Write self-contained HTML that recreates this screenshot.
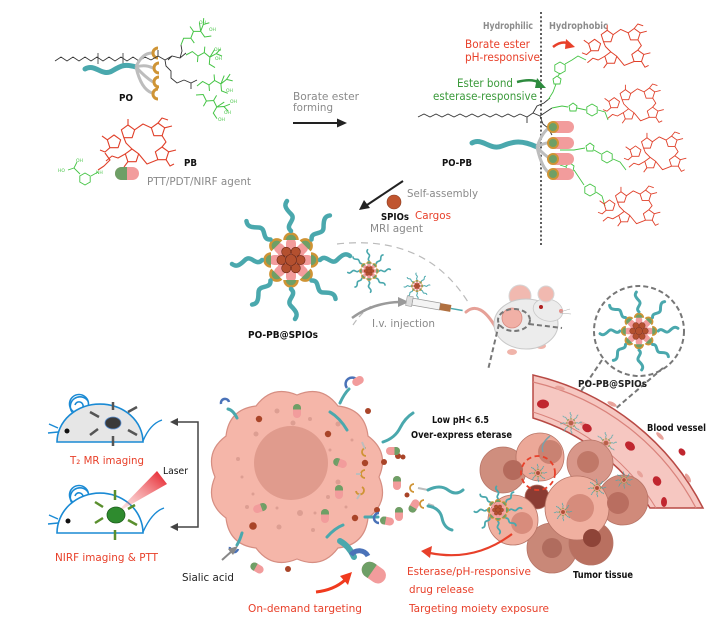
<!DOCTYPE html>
<html><head><meta charset="utf-8"><style>
html,body{margin:0;padding:0;background:#fff;}
svg{display:block;}
text{font-family:"DejaVu Sans","Liberation Sans",sans-serif;}
</style></head><body>
<svg width="720" height="622" viewBox="0 0 720 622" xmlns="http://www.w3.org/2000/svg">
<defs>
<linearGradient id="laser" x1="0" y1="1" x2="1" y2="0">
<stop offset="0" stop-color="#f7a0a0" stop-opacity="0.2"/>
<stop offset="1" stop-color="#e4141e"/>
</linearGradient>
<g id="por" fill="none" stroke="#e0402a" stroke-width="1.1" stroke-linejoin="round">
<polygon points="28,7 34.66,11.84 32.11,19.66 23.89,19.66 21.34,11.84"/>
<polygon points="58,5 64.66,9.84 62.11,17.66 53.89,17.66 51.34,9.84"/>
<polygon points="62,29 68.66,33.84 66.11,41.66 57.89,41.66 55.34,33.84"/>
<polygon points="32,31 38.66,35.84 36.11,43.66 27.89,43.66 25.34,35.84"/>
<polygon points="14,17 20.66,21.84 18.11,29.66 9.89,29.66 7.34,21.84"/>
<polyline points="34.66,11.84 43,6 51.34,9.84"/>
<polyline points="62.11,17.66 66,24 62,29"/>
<polyline points="57.89,41.66 47,46 38.66,35.84"/>
<polyline points="32,31 26,25 23.89,19.66"/>
<path d="M28,7V1 M58,5L62,0L68,2 M64.66,9.84L72,8 M68.66,33.84L76,32 M66.11,41.66L70,48L74,46 M27.89,43.66L24,49 M7.34,21.84L2,18 M9.89,29.66L5,34L0,32 M25.34,35.84L18,40L12,38L6,43"/>
</g>
<polygon id="hex" points="0,-6 5.2,-3 5.2,3 0,6 -5.2,3 -5.2,-3" fill="none" stroke="#45c445" stroke-width="0.9"/>
<g id="den" fill="none" stroke="#45c445" stroke-width="1">
<path d="M0,0 L6,-4 L12,0 L12,6 M12,0 L18,-4 L24,0 L30,-4 L34,-9 M24,0 L24,7 L30,10 M24,0 L28,-8 M18,-4 L18,-10 M30,-4 L36,-2"/>
</g>
<g id="arm">
<line x1="12" y1="0" x2="29" y2="0" stroke="#b3b3b3" stroke-width="3"/>
<rect x="9" y="-5" width="13" height="10" rx="5" fill="#f29c9c"/>
<path d="M20,-6 A6,6 0 0 1 20,6 Z" fill="#6e9f66"/>
<path d="M20,-6.5 A6.5,6.5 0 0 1 20,6.5" fill="none" stroke="#cf9435" stroke-width="2.5"/>
<path d="M29,0 C35,-7 40,6 46,0 S55,-7 59,-4" fill="none" stroke="#4aa8ad" stroke-width="4.5" stroke-linecap="round"/>
</g>
<g id="mic">
<circle r="14" fill="#f29c9c"/>
<use href="#arm"/>
<use href="#arm" transform="rotate(45)"/>
<use href="#arm" transform="rotate(90)"/>
<use href="#arm" transform="rotate(135)"/>
<use href="#arm" transform="rotate(180)"/>
<use href="#arm" transform="rotate(225)"/>
<use href="#arm" transform="rotate(270)"/>
<use href="#arm" transform="rotate(315)"/>
<g fill="#b4502f" stroke="#6e2a18" stroke-width="0.6">
<circle cx="9.5" cy="0" r="4.6"/><circle cx="4.75" cy="8.23" r="4.6"/><circle cx="-4.75" cy="8.23" r="4.6"/>
<circle cx="-9.5" cy="0" r="4.6"/><circle cx="-4.75" cy="-8.23" r="4.6"/><circle cx="4.75" cy="-8.23" r="4.6"/>
<circle r="5.5"/>
</g>
</g>
<g id="pill">
<rect x="-7" y="-4" width="14" height="8" rx="4" fill="#f29c9c"/>
<path d="M-3,-4 A4,4 0 0 0 -3,4 Z" fill="#6e9f66"/>
<rect x="-3" y="-4" width="1.5" height="8" fill="#6e9f66"/>
</g>
</defs>

<!-- ===== TOP LEFT: PO ===== -->
<polyline points="55,61 61,57 67,61 73,57 79,61 85,57 91,61 97,57 103,61 109,57 115,61 121,57 127,61 133,57 139,61 145,57 151,60" fill="none" stroke="#333" stroke-width="0.9"/>
<path d="M98,53 V64 M123,53 V64" stroke="#333" stroke-width="0.8"/>
<path d="M85,69 C95,63 102,77 112,71 S125,64 136,67" fill="none" stroke="#4aa8ad" stroke-width="5" stroke-linecap="round"/>
<g fill="none" stroke="#bdbdbd" stroke-width="3">
<path d="M136,67 Q142,53 152,53"/><path d="M136,67 Q145,64 153,68"/><path d="M136,67 Q145,77 153,82"/><path d="M136,67 Q141,89 152,93"/>
</g>
<g fill="none" stroke="#cf9435" stroke-width="3">
<path d="M158,48 A5,5 0 1 0 158,58"/><path d="M159,63 A5,5 0 1 0 159,73"/><path d="M159,77 A5,5 0 1 0 159,87"/><path d="M158,89 A5,5 0 1 0 158,99"/>
</g>
<path d="M151,60 L158,56 L165,60 L172,56 L180,58 L186,53 M158,56 V50 M165,60 L166,66 L171,71 L171,78 L177,83 L184,80 M180,58 L182,51 L181,45 M184,80 L191,83 L197,80 M191,83 V89 M172,56 L168,60" fill="none" stroke="#333" stroke-width="0.9"/>
<use href="#den" transform="translate(181,45) rotate(-35)"/>
<use href="#den" transform="translate(186,55) rotate(5)"/>
<use href="#den" transform="translate(197,86) rotate(-5)"/>
<use href="#den" transform="translate(196,95) rotate(30)"/>
<g font-size="4.5" fill="#45c445">
<text x="199" y="24">OH</text><text x="209" y="31">OH</text><text x="214" y="51">OH</text><text x="215" y="60">OH</text>
<text x="226" y="92">OH</text><text x="230" y="103">OH</text><text x="224" y="114">OH</text><text x="218" y="121">OH</text>
</g>
<text x="119" y="101" font-size="10" font-weight="bold" fill="#111" textLength="14" lengthAdjust="spacingAndGlyphs">PO</text>

<!-- PB -->
<use href="#por" transform="translate(100,118)"/>
<path d="M105,153 L110,160 L104,166 M104,166 L98,170" fill="none" stroke="#e0402a" stroke-width="1.1"/>
<use href="#hex" transform="translate(85,179)"/>
<path d="M91,176 L98,172 M80,174 L74,168 L68,170 M74,168 L77,162" fill="none" stroke="#45c445" stroke-width="0.9"/>
<g font-size="4.5" fill="#45c445"><text x="58" y="172">HO</text><text x="76" y="162">OH</text><text x="96" y="174">NH</text></g>
<rect x="115" y="167" width="24" height="13" rx="6.5" fill="#f29c9c"/>
<path d="M121.5,167 A6.5,6.5 0 0 0 121.5,180 L127,180 L127,167 Z" fill="#6e9f66"/>
<text x="184" y="166" font-size="10" font-weight="bold" fill="#111" textLength="13" lengthAdjust="spacingAndGlyphs">PB</text>
<text x="147" y="185" font-size="11" fill="#8a8a8a" textLength="104" lengthAdjust="spacingAndGlyphs">PTT/PDT/NIRF agent</text>

<!-- borate ester forming arrow -->
<text x="293" y="100" font-size="11" fill="#8a8a8a" textLength="66" lengthAdjust="spacingAndGlyphs">Borate ester</text>
<text x="293" y="111" font-size="11" fill="#8a8a8a" textLength="40" lengthAdjust="spacingAndGlyphs">forming</text>
<line x1="293" y1="123" x2="338" y2="123" stroke="#222" stroke-width="2"/>
<polygon points="347,123 337,118.5 337,127.5" fill="#222"/>

<!-- ===== TOP RIGHT: PO-PB ===== -->
<line x1="541" y1="12" x2="541" y2="247" stroke="#333" stroke-width="1.6" stroke-dasharray="2 2.2"/>
<text x="483" y="29" font-size="10" font-weight="bold" fill="#8c8c8c" textLength="50" lengthAdjust="spacingAndGlyphs">Hydrophilic</text>
<text x="549" y="29" font-size="10" font-weight="bold" fill="#8c8c8c" textLength="59" lengthAdjust="spacingAndGlyphs">Hydrophobic</text>
<text x="465" y="48" font-size="11.5" fill="#e8402a" textLength="65" lengthAdjust="spacingAndGlyphs">Borate ester</text>
<text x="465" y="61" font-size="11.5" fill="#e8402a" textLength="75" lengthAdjust="spacingAndGlyphs">pH-responsive</text>
<path d="M553,47 Q562,40 570,44" fill="none" stroke="#e8402a" stroke-width="2.5"/>
<polygon points="575,47 566,39 565,49" fill="#e8402a"/>
<text x="457" y="87" font-size="11.5" fill="#3a9a3a" textLength="56" lengthAdjust="spacingAndGlyphs">Ester bond</text>
<text x="433" y="100" font-size="11.5" fill="#3a9a3a" textLength="104" lengthAdjust="spacingAndGlyphs">esterase-responsive</text>
<path d="M517,82 Q532,78 540,83" fill="none" stroke="#2e8b3e" stroke-width="2.5"/>
<polygon points="546,88 537,78 535,88" fill="#2e8b3e"/>

<polyline points="418,117 424,114 430,117 436,114 442,117 448,114 454,117 460,114 466,117 472,114 478,117 484,114 490,117 496,114 502,117 508,114 514,117 520,114" fill="none" stroke="#333" stroke-width="0.9"/>
<path d="M520,114 L527,117 L533,113 L540,116 L546,112 M527,117 V123 M533,113 L537,106 L544,103 L550,98 M540,116 L543,124 L548,128 L552,135 M546,112 L552,108" fill="none" stroke="#333" stroke-width="0.9"/>
<path d="M472,143 C482,137 490,151 502,146 S522,140 537,147" fill="none" stroke="#4aa8ad" stroke-width="5" stroke-linecap="round"/>
<g fill="none" stroke="#bdbdbd" stroke-width="3">
<path d="M537,147 Q543,130 551,127"/><path d="M537,147 Q545,142 551,143"/><path d="M537,147 Q545,156 551,159"/><path d="M537,147 Q542,170 551,174"/>
</g>
<g fill="none" stroke="#45c445" stroke-width="0.9">
<path d="M548,100 L553,92 L556,84 M558,76 L560,73 M565,64 L572,60 L578,56 L586,60"/>
<polygon points="557,76 561,79 560,84 554,84 553,79"/>
<path d="M552,108 L562,106 L568,107 M577,108 L586,110 M598,110 L605,112 L608,120"/>
<polygon points="573,103 577,106 576,111 570,111 569,106"/>
<path d="M560,150 L574,150 L585,148 M594,150 L601,154 M613,159 L620,162 L626,170"/>
<polygon points="590,143 594,146 593,151 587,151 586,146"/>
<path d="M560,165 L566,167 M574,170 L584,185 M596,192 L602,196 L605,206"/>
<polygon points="570,163 574,166 573,171 567,171 566,166"/>
</g>
<use href="#hex" transform="translate(560,68)"/>
<use href="#hex" transform="translate(592,110)"/>
<use href="#hex" transform="translate(607,157)"/>
<use href="#hex" transform="translate(590,190)"/>
<g>
<rect x="549" y="121" width="25" height="12" rx="6" fill="#f29c9c"/>
<rect x="549" y="137" width="25" height="12" rx="6" fill="#f29c9c"/>
<rect x="549" y="153" width="25" height="12" rx="6" fill="#f29c9c"/>
<rect x="549" y="168" width="25" height="12" rx="6" fill="#f29c9c"/>
<g fill="#6e9f66" stroke="#cf9435" stroke-width="2">
<circle cx="553" cy="127" r="5"/><circle cx="553" cy="143" r="5"/><circle cx="553" cy="159" r="5"/><circle cx="553" cy="174" r="5"/>
</g>
</g>
<use href="#por" transform="translate(582,24) scale(0.9)"/>
<use href="#por" transform="translate(603,84) scale(0.8)"/>
<use href="#por" transform="translate(624,132) scale(0.82)"/>
<use href="#por" transform="translate(598,186) scale(0.82)"/>
<text x="442" y="166" font-size="9.5" font-weight="bold" fill="#111" textLength="30" lengthAdjust="spacingAndGlyphs">PO-PB</text>

<!-- self assembly -->
<line x1="403" y1="181" x2="367" y2="205" stroke="#222" stroke-width="2"/>
<polygon points="359,210 364,200 370,208" fill="#222"/>
<circle cx="394" cy="202" r="7" fill="#c0552f" stroke="#8a3a1e" stroke-width="0.6"/>
<text x="407" y="197" font-size="11" fill="#8a8a8a" textLength="71" lengthAdjust="spacingAndGlyphs">Self-assembly</text>
<text x="381" y="220" font-size="9.5" font-weight="bold" fill="#111" textLength="28" lengthAdjust="spacingAndGlyphs">SPIOs</text>
<text x="415" y="219" font-size="11" fill="#e8402a" textLength="36" lengthAdjust="spacingAndGlyphs">Cargos</text>
<text x="370" y="232" font-size="11" fill="#8a8a8a" textLength="53" lengthAdjust="spacingAndGlyphs">MRI agent</text>

<!-- micelles middle -->
<path d="M337,244 Q425,234 468,302" fill="none" stroke="#bbbbbb" stroke-width="1.2" stroke-dasharray="7 5"/>
<path d="M353,325 Q360,314 371,306" fill="none" stroke="#bbbbbb" stroke-width="1.2" stroke-dasharray="6 4"/>
<use href="#mic" transform="translate(291,260)"/>
<use href="#mic" transform="translate(369,271) scale(0.36)"/>
<use href="#mic" transform="translate(417,286) scale(0.22)"/>
<text x="248" y="338" font-size="9.5" font-weight="bold" fill="#111" textLength="70" lengthAdjust="spacingAndGlyphs">PO-PB@SPIOs</text>
<path d="M352,318 Q372,303 399,302" fill="none" stroke="#9a9a9a" stroke-width="2.5"/>
<polygon points="409,302 398,297 398,307" fill="#9a9a9a"/>
<text x="372" y="327" font-size="11" fill="#8a8a8a" textLength="63" lengthAdjust="spacingAndGlyphs">I.v. injection</text>
<g transform="rotate(10 437 306)">
<rect x="412" y="302.5" width="28" height="7" fill="#f4f4f4" stroke="#9a9a9a" stroke-width="0.8"/>
<rect x="406" y="301" width="6" height="10" fill="#ddd" stroke="#999" stroke-width="0.6"/>
<rect x="440" y="302.5" width="11" height="7" fill="#b07040"/>
<line x1="451" y1="306" x2="463" y2="306" stroke="#4aa8ad" stroke-width="1.5"/>
</g>
<!-- mouse -->
<path d="M496,328 Q480,300 466,312" fill="none" stroke="#e6a198" stroke-width="3" stroke-linecap="round"/>
<ellipse cx="512" cy="352" rx="5" ry="3" fill="#f0b4aa"/>
<ellipse cx="541" cy="346" rx="5" ry="3" fill="#f0b4aa"/>
<circle cx="520" cy="296" r="11" fill="#f1b9b0" stroke="#d5d5d5" stroke-width="1"/>
<ellipse cx="526" cy="324" rx="32" ry="25" fill="#ececec" stroke="#c9c9c9" stroke-width="1"/>
<ellipse cx="548" cy="310" rx="15" ry="11" transform="rotate(15 548 310)" fill="#ececec" stroke="#c9c9c9" stroke-width="0.8"/>
<circle cx="546" cy="294" r="8" fill="#f1b9b0" stroke="#d5d5d5" stroke-width="1"/>
<circle cx="541" cy="307" r="2" fill="#b02020"/>
<circle cx="561" cy="311" r="2" fill="#e8908a"/>
<path d="M560,312 L570,309 M560,313 L571,314" stroke="#aaa" stroke-width="0.5"/>
<circle cx="512" cy="318" r="10" fill="#f1b0a6" stroke="#d98a80" stroke-width="0.8"/>
<g fill="none" stroke="#777" stroke-width="2" stroke-dasharray="5 3">
<ellipse cx="514" cy="320" rx="16" ry="11"/>
<path d="M499,324 L488,370"/>
<path d="M529,324 L562,328"/>
<circle cx="639" cy="331" r="45"/>
<path d="M602,360 L567,412"/>
<path d="M663,368 L600,422"/>
</g>
<use href="#mic" transform="translate(639,331) scale(0.66)"/>

<!-- blood vessel -->
<path d="M533,375 A255,255 0 0 1 703,508 L650,508 A212,212 0 0 0 533,418 Z" fill="#f6c7c1" stroke="#b84a45" stroke-width="1.5"/>
<path d="M533,382 A248,248 0 0 1 696,508" fill="none" stroke="#d9837c" stroke-width="1.2"/>
<path d="M533,412 A218,218 0 0 1 656,508" fill="none" stroke="#d9837c" stroke-width="1"/>
<g fill="#e8a39b">
<ellipse cx="560" cy="388" rx="5" ry="2" transform="rotate(15 560 388)"/>
<ellipse cx="612" cy="404" rx="5" ry="2" transform="rotate(25 612 404)"/>
<ellipse cx="660" cy="436" rx="5" ry="2" transform="rotate(45 660 436)"/>
<ellipse cx="688" cy="478" rx="5" ry="2" transform="rotate(60 688 478)"/>
<ellipse cx="583" cy="424" rx="4" ry="2" transform="rotate(25 583 424)"/>
<ellipse cx="640" cy="474" rx="4" ry="2" transform="rotate(50 640 474)"/>
</g>
<g fill="#c0262f">
<ellipse cx="543" cy="404" rx="6" ry="4.5"/>
<ellipse cx="587" cy="428" rx="5" ry="4" transform="rotate(30 587 428)"/>
<ellipse cx="630" cy="446" rx="5.5" ry="4" transform="rotate(40 630 446)"/>
<ellipse cx="657" cy="481" rx="5" ry="4" transform="rotate(60 657 481)"/>
<ellipse cx="664" cy="502" rx="3" ry="5"/>
<ellipse cx="682" cy="452" rx="4" ry="3" transform="rotate(50 682 452)"/>
</g>
<use href="#mic" transform="translate(571,423) scale(0.18)" opacity="0.85"/>
<use href="#mic" transform="translate(606,443) scale(0.18)" opacity="0.85"/>
<text x="578" y="387" font-size="9.5" font-weight="bold" fill="#222" textLength="69" lengthAdjust="spacingAndGlyphs">PO-PB@SPIOs</text>
<text x="647" y="431" font-size="9.5" font-weight="bold" fill="#111" textLength="59" lengthAdjust="spacingAndGlyphs">Blood vessel</text>

<!-- tumor tissue -->
<g stroke="#b77466" stroke-width="0.8">
<circle cx="503" cy="470" r="23" fill="#cf8e7e"/>
<circle cx="590" cy="463" r="23" fill="#d8978a"/>
<circle cx="552" cy="548" r="25" fill="#c98878"/>
<circle cx="591" cy="543" r="22" fill="#b97060"/>
<circle cx="623" cy="500" r="25" fill="#d08a7a"/>
<circle cx="540" cy="457" r="24" fill="#eca898"/>
<circle cx="537" cy="497" r="12" fill="#8b3c33"/>
<circle cx="513" cy="520" r="25" fill="#f0b0a0"/>
<circle cx="577" cy="508" r="32" fill="#f0b0a0"/>
</g>
<g stroke="none">
<circle cx="513" cy="470" r="10" fill="#b46a5c"/>
<circle cx="550" cy="452" r="12" fill="#c98272"/>
<circle cx="588" cy="462" r="11" fill="#c07868"/>
<circle cx="618" cy="503" r="11" fill="#b96e60"/>
<circle cx="552" cy="548" r="10" fill="#b06c5e"/>
<circle cx="592" cy="538" r="9" fill="#8e4438"/>
<circle cx="522" cy="523" r="11" fill="#d88c7c"/>
<circle cx="580" cy="508" r="14" fill="#d68c7c"/>
</g>
<circle cx="538" cy="473" r="17" fill="none" stroke="#e8402a" stroke-width="1.8" stroke-dasharray="5 3.5"/>
<path d="M550,436 Q540,444 543,452" fill="none" stroke="#7aa0a8" stroke-width="1.5"/>
<use href="#mic" transform="translate(538,473) scale(0.15)"/>
<use href="#mic" transform="translate(597,488) scale(0.15)"/>
<use href="#mic" transform="translate(563,512) scale(0.15)"/>
<use href="#mic" transform="translate(624,480) scale(0.14)"/>
<use href="#mic" transform="translate(498,510) scale(0.4)"/>
<text x="573" y="578" font-size="9.5" font-weight="bold" fill="#111" textLength="60" lengthAdjust="spacingAndGlyphs">Tumor tissue</text>
<text x="432" y="423" font-size="9.5" font-weight="bold" fill="#111" textLength="57" lengthAdjust="spacingAndGlyphs">Low pH&lt; 6.5</text>
<text x="411" y="438" font-size="9.5" font-weight="bold" fill="#111" textLength="101" lengthAdjust="spacingAndGlyphs">Over-express eterase</text>
<path d="M512,534 Q475,562 430,553" fill="none" stroke="#e8402a" stroke-width="2.2"/>
<polygon points="421,551 432,546 430,558" fill="#e8402a"/>
<text x="407" y="575" font-size="11" fill="#e8402a" textLength="124" lengthAdjust="spacingAndGlyphs">Esterase/pH-responsive</text>
<text x="409" y="593" font-size="11" fill="#e8402a" textLength="65" lengthAdjust="spacingAndGlyphs">drug release</text>
<text x="409" y="612" font-size="11" fill="#e8402a" textLength="140" lengthAdjust="spacingAndGlyphs">Targeting moiety exposure</text>

<!-- big cell -->
<path d="M379,477 Q389.7,501.9 368,518 Q364.9,544.9 338,548 Q321.9,569.7 297,559 Q272.1,569.7 256,548 Q229.1,544.9 226,518 Q204.3,501.9 215,477 Q204.3,452.1 226,436 Q229.1,409.1 256,406 Q272.1,384.3 297,395 Q321.9,384.3 338,406 Q364.9,409.1 368,436 Q389.7,452.1 379,477 Z" fill="#f5b6a9" stroke="#d68e82" stroke-width="1.2"/>
<circle cx="291" cy="463" r="37" fill="#e09b8d"/>
<g fill="#dd9e92">
<circle cx="277" cy="411" r="2.5"/><circle cx="293" cy="423" r="2.5"/><circle cx="310" cy="419" r="2"/><circle cx="256" cy="434" r="2.5"/>
<circle cx="238" cy="459" r="2"/><circle cx="242" cy="477" r="1.5"/><circle cx="253" cy="494" r="1.5"/><circle cx="247" cy="507" r="2"/>
<circle cx="277" cy="508" r="1.5"/><circle cx="300" cy="513" r="3"/><circle cx="279" cy="527" r="2.5"/><circle cx="313" cy="530" r="2"/>
<circle cx="315" cy="513" r="1.5"/><circle cx="328" cy="497" r="2"/><circle cx="338" cy="482" r="2.5"/><circle cx="346" cy="507" r="1.5"/>
<circle cx="338" cy="424" r="2.5"/><circle cx="330" cy="450" r="1.5"/><circle cx="352" cy="440" r="1.5"/>
</g>
<g fill="#a94428">
<circle cx="259" cy="419" r="3.2"/><circle cx="328" cy="434" r="3.2"/><circle cx="365" cy="463" r="3.2"/><circle cx="253" cy="526" r="3.8"/>
<circle cx="355" cy="518" r="3.2"/><circle cx="377" cy="510" r="3"/><circle cx="384" cy="462" r="3"/><circle cx="368" cy="411" r="3"/>
<circle cx="398" cy="456" r="3"/><circle cx="288" cy="569" r="3"/><circle cx="407" cy="495" r="2.5"/><circle cx="403" cy="457" r="2.5"/>
</g>
<use href="#pill" transform="translate(297,411) rotate(90)"/>
<use href="#pill" transform="translate(340,463) rotate(20)"/>
<use href="#pill" transform="translate(339,492) rotate(90)"/>
<use href="#pill" transform="translate(260,508) rotate(160)"/>
<use href="#pill" transform="translate(325,516) rotate(90)"/>
<use href="#pill" transform="translate(393,451) rotate(180)"/>
<use href="#pill" transform="translate(397,483) rotate(90)"/>
<use href="#pill" transform="translate(399,514) rotate(90)"/>
<use href="#pill" transform="translate(257,568) rotate(30)"/>
<use href="#pill" transform="translate(414,506) rotate(-60)"/>
<g fill="none" stroke="#cf9435" stroke-width="1.8">
<path d="M366,448 A4,4 0 1 0 366,456"/><path d="M365,470 A4,4 0 1 0 365,478"/><path d="M362,487 A4,4 0 1 1 356,491"/>
<path d="M414,484 A4,4 0 1 0 414,492"/><path d="M424,500 A4,4 0 1 0 424,508"/>
</g>
<g stroke="#bdbdbd" stroke-width="2"><path d="M362,442 L365,449 M356,474 L361,474 M360,494 L357,499 M418,488 L428,490 M428,504 L434,506"/></g>
<g fill="none" stroke="#4aa8ad" stroke-width="3" stroke-linecap="round">
<path d="M330,412 Q340,418 347,430"/>
<path d="M327,537 Q335,528 343,525"/>
<path d="M383,442 Q395,438 400,428 Q405,418 413,413"/>
<path d="M428,490 Q440,484 448,490 T463,490"/>
<path d="M428,506 Q440,508 442,518 T452,530"/>
<path d="M237,418 Q233,410 228,409"/>
<path d="M242,533 Q240,540 237,545"/>
<path d="M365,517 L378,517"/>
<path d="M340,403 Q344,394 349,389"/>
</g>
<path d="M340,541 Q349,546 354,557" fill="none" stroke="#4aa8ad" stroke-width="6" stroke-linecap="round"/>
<g fill="none" stroke="#4a72b8" stroke-width="2.5">
<path d="M221,404 A4,4 0 0 1 229,402"/>
<path d="M230,547 A4,4 0 0 0 238,549"/>
<path d="M379,513 A5,5 0 0 0 379,523"/>
<path d="M347,388 A6,6 0 0 1 357,380"/>
</g>
<use href="#pill" transform="translate(387,521) rotate(10)"/>
<rect x="352" y="377" width="12" height="8" rx="4" fill="#f29c9c" transform="rotate(-30 358 381)"/>
<g transform="translate(373,572) rotate(35)">
<rect x="-12" y="-8" width="26" height="16" rx="8" fill="#f29c9c"/>
<path d="M-4,-8 A8,8 0 0 0 -4,8 L-1,8 L-1,-8 Z" fill="#6e9f66"/>
</g>
<path d="M351,555 A10,10 0 0 1 368,556" fill="none" stroke="#4a72b8" stroke-width="5"/>
<text x="182" y="581" font-size="10.5" fill="#222" textLength="52" lengthAdjust="spacingAndGlyphs">Sialic acid</text>
<line x1="222" y1="560" x2="232" y2="551" stroke="#888" stroke-width="2"/>
<polygon points="238,546 228,549 233,555" fill="#888"/>
<path d="M316,592 Q334,590 345,580" fill="none" stroke="#f03a1e" stroke-width="3"/>
<polygon points="352,572 340,576 348,585" fill="#f03a1e"/>
<text x="248" y="612" font-size="11" fill="#e8402a" textLength="114" lengthAdjust="spacingAndGlyphs">On-demand targeting</text>

<!-- ===== LEFT MICE ===== -->
<g fill="none" stroke="#1a8ad4" stroke-width="1.6">
<circle cx="79" cy="404" r="9.5" fill="#fff"/>
<path d="M75,405 A4,4 0 1 1 83,407"/>
</g>
<path d="M57,442 A43,38 0 0 1 143,442 Z" fill="#e6e6e6" stroke="#1a8ad4" stroke-width="1.6"/>
<path d="M72,412 A9.5,9.5 0 0 1 88,401" fill="none" stroke="#1a8ad4" stroke-width="1.6"/>
<path d="M143,441 Q150,424 162,420 M58,428 L49,424 M58,432 L48,433" fill="none" stroke="#1a8ad4" stroke-width="1.4"/>
<circle cx="67" cy="431" r="2.5" fill="#111"/>
<g stroke="#555" stroke-width="2.5">
<path d="M113,402 V410 M90,412 L99,417 M137,407 L128,412 M90,435 L98,429 M137,435 L128,430 M113,436 V446"/>
</g>
<ellipse cx="113" cy="423" rx="8" ry="6" fill="#3a3a3a" stroke="#5b8fd0" stroke-width="0.8"/>
<text x="70" y="464" font-size="11" fill="#e8402a" textLength="74" lengthAdjust="spacingAndGlyphs">T₂ MR imaging</text>

<g fill="none" stroke="#1a8ad4" stroke-width="1.6">
<circle cx="79" cy="495" r="9.5" fill="#fff"/>
<path d="M75,496 A4,4 0 1 1 83,498"/>
</g>
<path d="M57,533 A43,40 0 0 1 143,533 Z" fill="#fff" stroke="#1a8ad4" stroke-width="1.6"/>
<path d="M72,503 A9.5,9.5 0 0 1 88,492" fill="none" stroke="#1a8ad4" stroke-width="1.6"/>
<path d="M143,532 Q152,512 164,508 M58,519 L49,515 M58,523 L48,524" fill="none" stroke="#1a8ad4" stroke-width="1.4"/>
<circle cx="68" cy="521" r="2.5" fill="#111"/>
<g stroke="#5a8f2e" stroke-width="2.5">
<path d="M115,490 V500 M95,502 L103,507 M95,523 L103,518 M128,520 L137,525 M115,530 V540 M128,509 L135,505"/>
</g>
<polygon points="116,513 157,471 167,484" fill="url(#laser)"/>
<ellipse cx="116" cy="515" rx="9" ry="8" fill="#2e8b2e" stroke="#1d5e1d" stroke-width="0.8"/>
<text x="55" y="561" font-size="11" fill="#e8402a" textLength="103" lengthAdjust="spacingAndGlyphs">NIRF imaging &amp; PTT</text>
<text x="163" y="474" font-size="9.5" fill="#111" textLength="25" lengthAdjust="spacingAndGlyphs">Laser</text>
<path d="M177,422 H198 V527 H177" fill="none" stroke="#444" stroke-width="1.5"/>
<polygon points="170,422 178,418 178,426" fill="#444"/>
<polygon points="170,527 178,523 178,531" fill="#444"/>
</svg>
</body></html>
